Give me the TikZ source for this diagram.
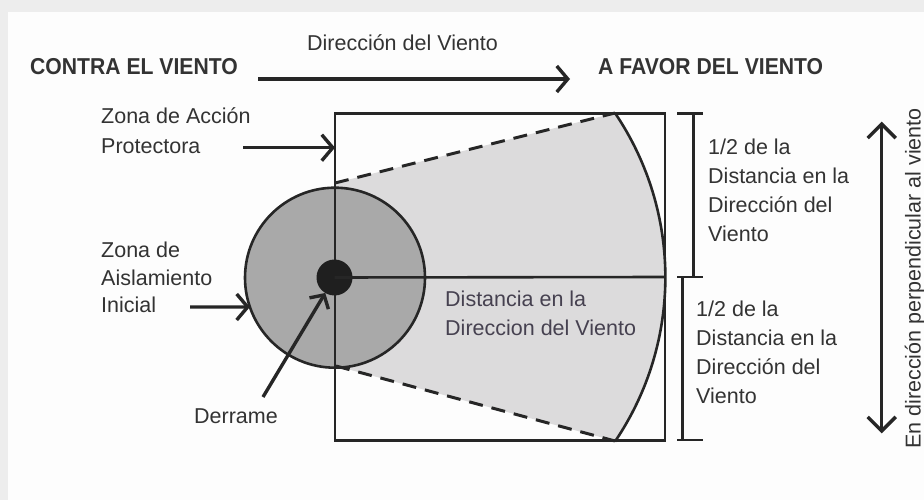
\documentclass[tikz,border=0pt]{standalone}
\usepackage{fontspec}
\setmainfont{Liberation Sans}
\usetikzlibrary{arrows.meta}
\definecolor{ink}{HTML}{262626}
\definecolor{txt}{HTML}{333333}
\definecolor{dist}{HTML}{464150}
\definecolor{plume}{HTML}{DCDBDC}
\definecolor{zone}{HTML}{A9A9A9}
\definecolor{band}{HTML}{EDEDED}
\definecolor{card}{HTML}{FDFDFD}
\begin{document}
\begin{tikzpicture}[x=1pt,y=-1pt,
  headtext/.style={font=\fontsize{23}{27}\selectfont\bfseries, text=txt, inner sep=0pt},
  lbl/.style={font=\fontsize{21.5}{29}\selectfont, text=txt, inner sep=0pt, align=left, anchor=west},
  pointer/.style={draw=ink, line width=3.4pt, -{Straight Barb[length=11pt,width=26pt]}},
  dimline/.style={draw=ink, line width=2.8pt},
  outline/.style={draw=ink, line width=2.6pt}
]
% background card
\path[fill=band] (0,0) rectangle (924,500);
\path[fill=card] (8,12) rectangle (924,500);
\useasboundingbox (0,0) rectangle (924,500);

% plume region
\fill[plume] (335,183) -- (615,113) arc[start angle=-34.1, end angle=34.1, radius=293] -- (615,441) -- (336,366) -- cycle;

% initial isolation zone
\node[circle, outline, fill=zone, minimum size=180, inner sep=0pt, outer sep=0pt] (iso) at (335,277.7) {};

% dashed edges and arc
\draw[ink, line width=3pt, dash pattern=on 14pt off 9pt] (335,183) -- (615,113);
\draw[ink, line width=3pt, dash pattern=on 14pt off 9pt] (336,366) -- (615,441);
\draw[outline] (615,113) arc[start angle=-34.1, end angle=34.1, radius=293];

% protective action box
\node[draw=ink, line width=2.8pt, minimum width=330, minimum height=327.4, inner sep=0pt, outer sep=0pt] (box) at (500,277) {};

% spill
\node[circle, fill=black!88, minimum size=36, inner sep=0pt, outer sep=0pt] (spill) at (334.5,277.5) {};
\draw[outline] (spill.center) -- (box.east);

% top labels and wind arrow
\node[headtext, anchor=base west] (contra) at (30,75) {\scalebox{0.92}[1]{CONTRA EL VIENTO}};
\node[headtext, anchor=base west] (favor) at (598,75) {\scalebox{0.92}[1]{A FAVOR DEL VIENTO}};
\node[lbl, anchor=base] (wdir) at (402.5,51) {Dirección del Viento};
\coordinate (wL) at (258,79);
\coordinate (wR) at (570,79);
\draw[pointer] (wL) -- (wR);

% left labels
\node[lbl, align=left, font=\fontsize{21.5}{30}\selectfont] (zap) at (101,131) {Zona de Acción\\Protectora};
\coordinate (zapS) at (243,147.7);
\draw[pointer] (zapS) -- (box.west |- zapS);

\node[lbl, align=left, font=\fontsize{21.5}{27.5}\selectfont] (zai) at (101,277.5) {Zona de\\Aislamiento\\Inicial};
\coordinate (zaiS) at (190,307);
\draw[pointer] (zaiS) -- (iso.199);

\node[lbl, anchor=base] (der) at (236,423) {Derrame};
\coordinate (derS) at (263,397);
\draw[pointer, -{Straight Barb[length=10pt,width=22pt]}] (derS) -- (spill);

% distance label
\node[lbl, text=dist] (dist) at (445,313) {Distancia en la\\Direccion del Viento};

% dimension brackets
\coordinate (uT) at (693.3,113.3);
\coordinate (uB) at (693.3,277);
\draw[dimline] (uT) -- (uB);
\draw[dimline] (677,113.3) -- (703,113.3);
\draw[dimline] (677,277) -- (703,277);
\coordinate (lT) at (682.7,277.5);
\coordinate (lB) at (682.7,440);
\draw[dimline] (lT) -- (lB);
\draw[dimline] (677,440) -- (703,440);

\node[lbl] (halfU) at (708,190) {1/2 de la\\Distancia en la\\Dirección del\\Viento};
\node[lbl] (halfL) at (696,352) {1/2 de la\\Distancia en la\\Dirección del\\Viento};

% perpendicular arrow
\coordinate (pT) at (881.7,121.7);
\coordinate (pB) at (881.7,433.3);
\draw[draw=ink, line width=3.4pt, {Straight Barb[length=14pt,width=28pt]}-{Straight Barb[length=14pt,width=28pt]}] (pT) -- (pB);
\node[lbl, anchor=base, rotate=90] (perp) at (920.5,278.5) {En dirección perpendicular al viento};
\end{tikzpicture}
\end{document}
